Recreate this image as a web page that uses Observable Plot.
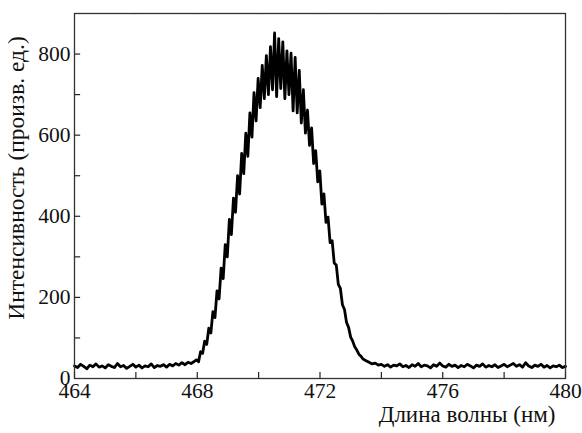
<!DOCTYPE html>
<html>
<head>
<meta charset="utf-8">
<script src="https://cdn.jsdelivr.net/npm/d3@7"></script>
<script src="https://cdn.jsdelivr.net/npm/@observablehq/plot@0.6"></script>
<style>
  html, body { margin: 0; padding: 0; background: #fff; }
  #chart { width: 582px; height: 433px; }
  #chart svg, #chart svg text { font-family: "Liberation Serif", "DejaVu Serif", serif !important; }
</style>
</head>
<body>
<div id="chart"></div>
<script>
// ---- data ----
const baseLeftWl = [464.0,464.1,464.2,464.3,464.4,464.5,464.6,464.7,464.8,464.9,
  465.0,465.1,465.2,465.3,465.4,465.5,465.6,465.7,465.8,465.9,
  466.0,466.1,466.2,466.3,466.4,466.5,466.6,466.7,466.8,466.9,
  467.0,467.1,467.2,467.3,467.4,467.5,467.6,467.7,467.8,467.9];
const baseLeftInt = [31,27,35,30,24,33,29,36,28,31,
  26,34,30,27,37,29,32,25,30,35,
  28,33,26,31,29,36,27,32,30,34,
  28,35,31,37,33,39,34,40,37,42];

const peakWl = [467.974,468.041,468.108,468.175,468.242,468.309,468.376,468.443,468.510,468.577,
  468.644,468.711,468.778,468.845,468.912,468.979,469.046,469.113,469.180,469.247,
  469.314,469.381,469.448,469.515,469.582,469.649,469.716,469.783,469.850,469.917,
  469.984,470.051,470.118,470.185,470.252,470.319,470.386,470.453,470.520,470.587,
  470.654,470.721,470.788,470.855,470.922,470.989,471.056,471.123,471.190,471.257,
  471.324,471.391,471.458,471.525,471.592,471.659,471.726,471.793,471.860,471.927,
  471.994,472.061,472.128,472.195,472.262,472.329,472.396,472.463,472.530,472.597,
  472.664,472.731,472.798,472.865,472.932,472.999,473.066,473.133,473.200,473.267,
  473.334,473.401];
const peakInt = [46,41,66,62,92,84,124,112,165,150,
  216,196,272,246,330,300,392,355,445,410,
  500,455,555,505,605,548,655,595,705,635,
  740,668,772,690,796,700,818,712,852,695,
  838,715,830,690,808,700,802,660,792,655,
  760,630,712,605,662,575,618,530,562,485,
  512,430,455,385,398,335,340,285,280,232,
  222,182,170,138,126,102,92,78,70,60,
  55,48];

const baseRightWl = [473.5,473.6,473.7,473.8,473.9,
  474.0,474.1,474.2,474.3,474.4,474.5,474.6,474.7,474.8,474.9,
  475.0,475.1,475.2,475.3,475.4,475.5,475.6,475.7,475.8,475.9,
  476.0,476.1,476.2,476.3,476.4,476.5,476.6,476.7,476.8,476.9,
  477.0,477.1,477.2,477.3,477.4,477.5,477.6,477.7,477.8,477.9,
  478.0,478.1,478.2,478.3,478.4,478.5,478.6,478.7,478.8,478.9,
  479.0,479.1,479.2,479.3,479.4,479.5,479.6,479.7,479.8,479.9,480.0];
const baseRightInt = [44,40,36,38,33,
  35,30,34,28,33,31,36,29,32,27,
  34,30,37,29,33,31,26,34,30,38,
  31,28,35,30,33,27,32,29,35,31,
  26,33,30,36,28,32,29,34,27,31,
  35,29,33,37,30,34,28,39,31,27,
  33,30,35,28,32,26,31,29,33,27,30];

const xTicks = [464, 468, 472, 476, 480];
const xMinorTicks = [466, 470, 474, 478];
const yTicks = [0, 200, 400, 600, 800];
const yMinorTicks = [100, 300, 500, 700];
const xLabel = "Длина волны (нм)";
const yLabel = "Интенсивность (произв. ед.)";

// ---- build table ----
const spectrum = [];
baseLeftWl.forEach((w, i) => spectrum.push({wl: w, v: baseLeftInt[i]}));
peakWl.forEach((w, i) => spectrum.push({wl: w, v: peakInt[i]}));
baseRightWl.forEach((w, i) => spectrum.push({wl: w, v: baseRightInt[i]}));

const allXTicks = xTicks.concat(xMinorTicks);
const allYTicks = yTicks.concat(yMinorTicks);
const serif = "Liberation Serif";

const chart = Plot.plot({
  width: 582,
  height: 433,
  marginLeft: 74,
  marginRight: 17,
  marginTop: 13,
  marginBottom: 55,
  style: {fontFamily: serif, fontSize: "21.5px", color: "#111", background: "#fff"},
  x: {domain: [464, 480]},
  y: {domain: [0, 900]},
  marks: [
    Plot.axisX({ticks: xTicks, tickSize: 0, tickPadding: 4, label: null, tickFormat: d => String(d), fontSize: 21.5}),
    Plot.axisY({ticks: yTicks, tickSize: 0, tickPadding: 4, label: null, tickFormat: d => String(d), fontSize: 21.5}),
    // inward ticks
    Plot.ruleX(allXTicks, {x: d => d, y1: 0, y2: 15, stroke: "#222", strokeWidth: 1.2}),
    Plot.ruleX(allXTicks.filter(d => d !== 464 && d !== 480), {x: d => d, y1: 900, y2: 896, stroke: "#ccc", strokeWidth: 1}),
    Plot.ruleY(allYTicks.filter(d => d !== 0), {y: d => d, x1: 464, x2: 464.2, stroke: "#222", strokeWidth: 1.2}),
    Plot.line(spectrum, {x: "wl", y: "v", stroke: "#000", strokeWidth: 2.8, strokeLinejoin: "round"}),
    Plot.frame({stroke: "#333", strokeWidth: 1.3}),
    Plot.text([yLabel], {text: d => d, frameAnchor: "left", textAnchor: "middle", rotate: -90, dx: -58, dy: -18, fill: "#111", fontSize: 23.5}),
    Plot.text([xLabel], {text: d => d, frameAnchor: "bottom-right", textAnchor: "end", dx: -10, dy: 43, fill: "#111", fontSize: 23})
  ]
});
d3.select(chart).selectAll("text").style("font-family", serif);
document.getElementById("chart").appendChild(chart);
</script>
</body>
</html>
